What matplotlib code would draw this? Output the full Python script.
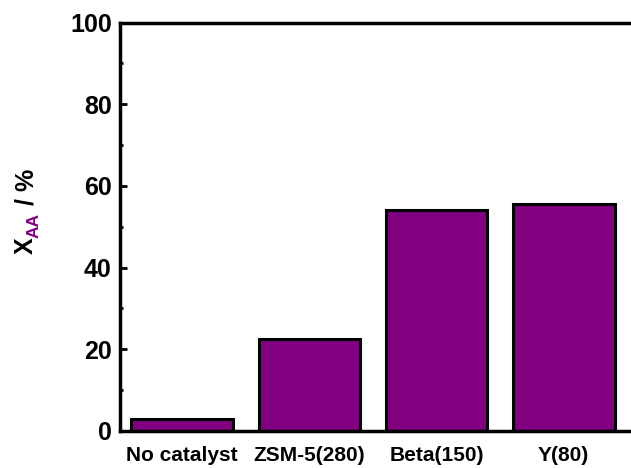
import matplotlib.pyplot as plt
from matplotlib.ticker import MultipleLocator

catalysts = ['No catalyst', 'ZSM-5(280)', 'Beta(150)', 'Y(80)']
conversion = [3.0, 22.5, 54.0, 55.6]

purple = '#800080'

plt.rcParams['font.family'] = ['Liberation Sans', 'DejaVu Sans']
plt.rcParams['font.weight'] = 'bold'

fig = plt.figure(figsize=(6.31, 4.68), dpi=100)
W, H = 631, 468
ax = fig.add_axes([120 / W, 37 / H, 520 / W, 408.5 / H])

x = range(len(catalysts))
ax.bar(x, conversion, width=0.8, color=purple, edgecolor='black', linewidth=2.2)

ax.set_xlim(-0.49, 3.6)
ax.set_ylim(0, 100)
ax.set_xticks(list(x))
ax.set_xticklabels(catalysts, fontsize=15, fontweight='bold')
ax.yaxis.set_major_locator(MultipleLocator(20))
ax.yaxis.set_minor_locator(MultipleLocator(10))
ax.tick_params(axis='y', which='major', direction='in', length=5, width=2,
               labelsize=18, pad=6)
ax.tick_params(axis='y', which='minor', direction='in', length=2.5, width=2)
ax.tick_params(axis='x', length=0, pad=11)
for lbl in ax.get_yticklabels():
    lbl.set_fontweight('bold')

for side in ['left', 'bottom', 'top']:
    ax.spines[side].set_linewidth(2.5)
ax.spines['right'].set_visible(False)

# y label built from pieces so the subscript can be coloured
def px(xp, yp):
    return xp / W, (H - yp) / H

fig.text(*px(33, 254), 'X', rotation=90, rotation_mode='anchor',
         ha='left', va='baseline', fontsize=18, fontweight='bold')
fig.text(*px(39, 238), 'AA', rotation=90, rotation_mode='anchor',
         ha='left', va='baseline', fontsize=12.5, fontweight='bold', color=purple)
fig.text(*px(33, 212), ' / %', rotation=90, rotation_mode='anchor',
         ha='left', va='baseline', fontsize=18, fontweight='bold')

fig.savefig('out.png', dpi=100)
